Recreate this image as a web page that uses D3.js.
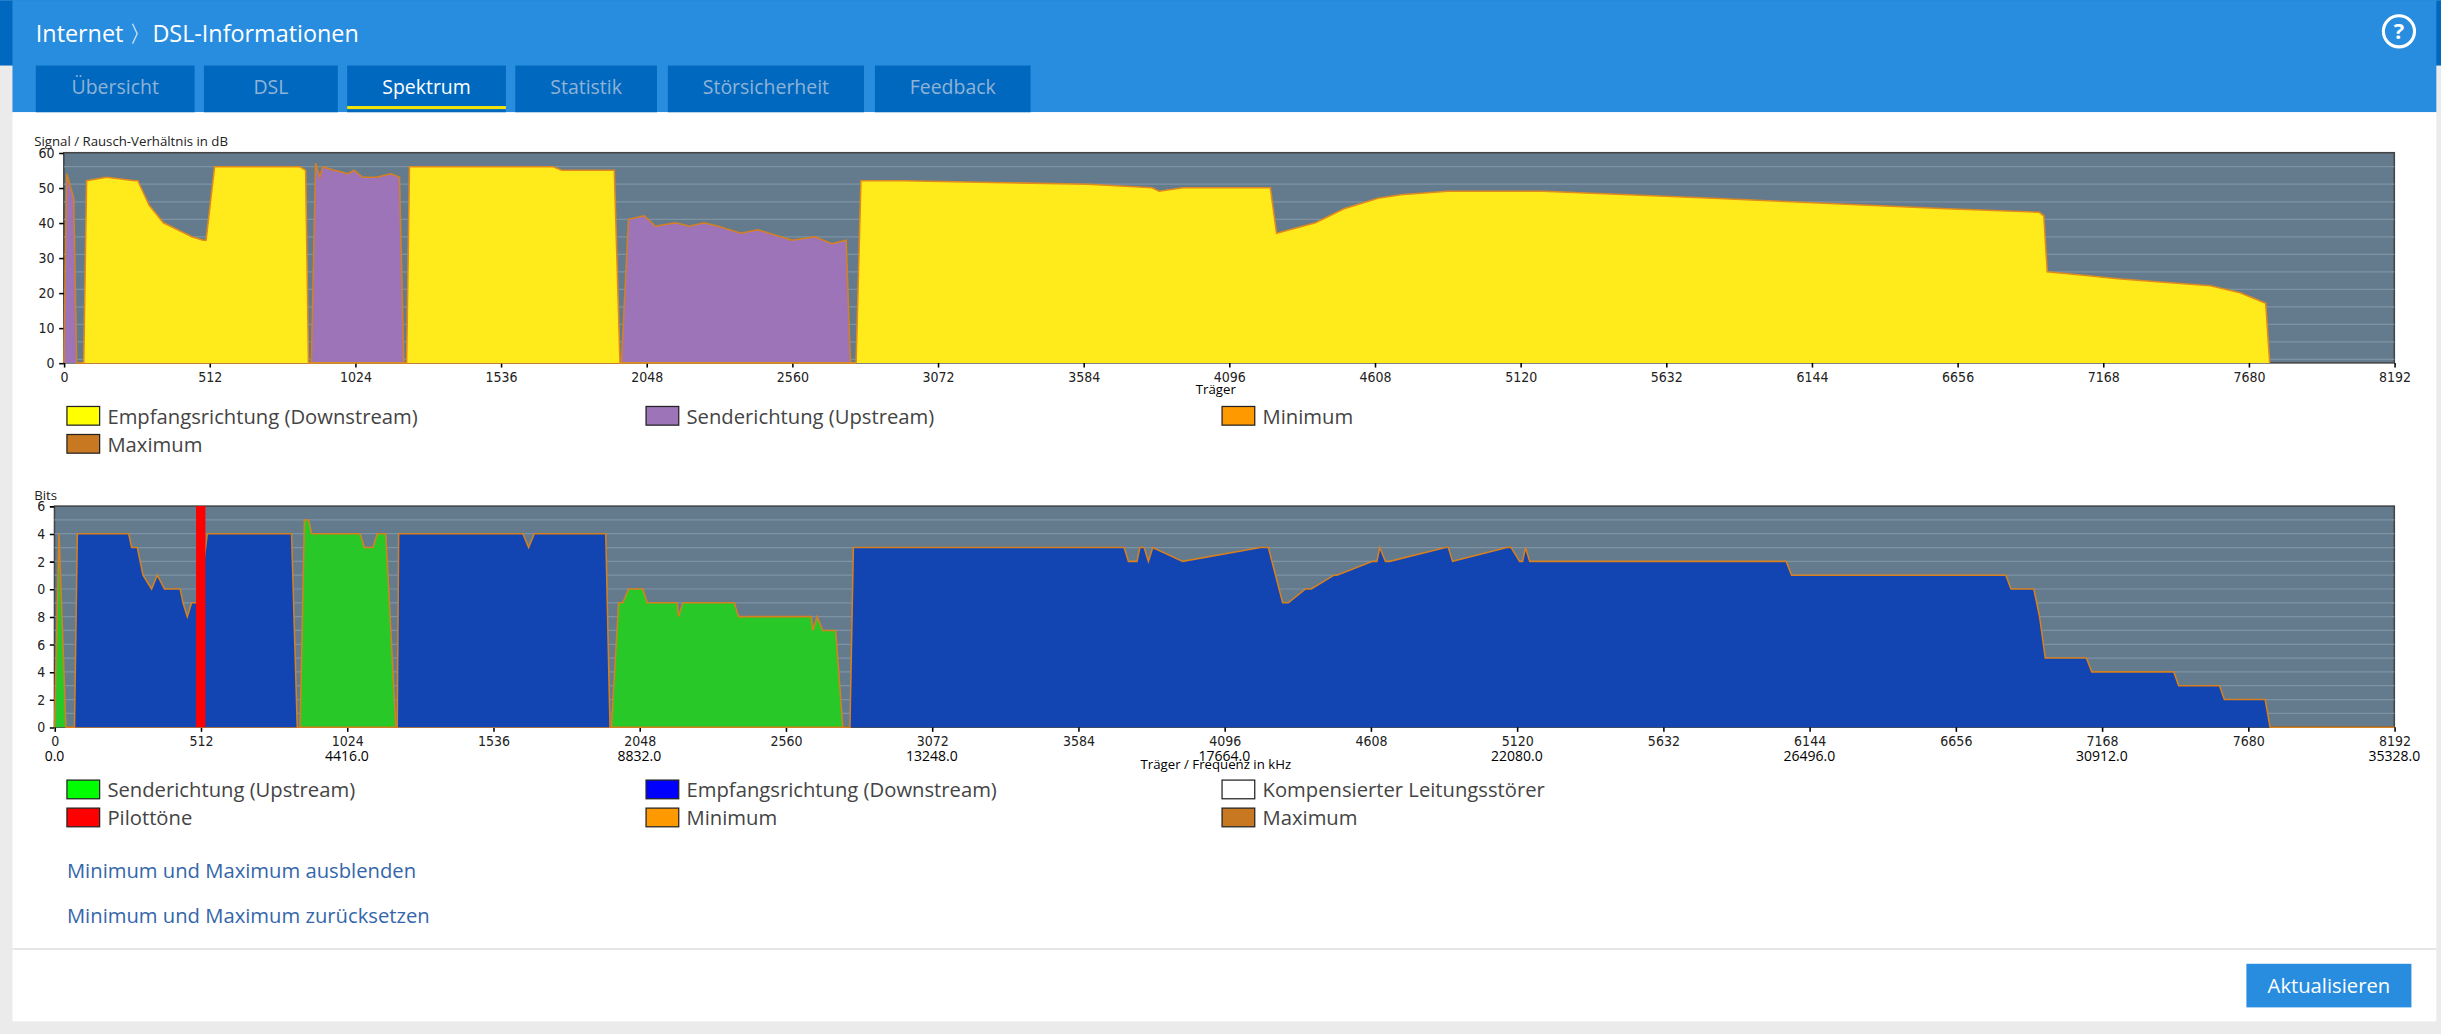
<!DOCTYPE html>
<html lang="de">
<head>
<meta charset="utf-8">
<style>
  body {margin: 0; background-color: #ebebeb; overflow: hidden;}
  svg {display: block;}
  text {font-family: "Open Sans", "Noto Sans", sans-serif;}
  .ax text {font-family: "DejaVu Sans Condensed", "Liberation Sans Narrow", sans-serif; font-size: 9px; fill: #222;}
</style>
</head>
<body>
<svg id="page" width="2441" height="1034" viewBox="0 0 1568 664"></svg>
<script src="https://d3js.org/d3.v7.min.js"></script>
<script>
// ---- SNR data (carrier, dB) ----
var snrDownC = [60,70,80,150,250,260,300,350,400,450,490,500,530,830,850,860,
                1205,1215,1720,1750,1935,1955,
                2785,2802,2950,3600,3825,3850,3934,4241,4263,4400,4500,4620,4700,4865,5200,5500,5795,6070,6342,6620,6944,6960,6972,7100,7220,7380,7546,7650,7710,7740,7754];
var snrDownV = [0,0,52,53,52,52,45,40,38,36,35,35,56,56,55,0,
                0,56,56,55,55,0,
                0,52,52,51,50,49,50,50,37,40,44,47,48,49,49,48,47,46,45,44,43,42,26,25,24,23,22,20,18,17,0];
var snrUpC = [0,10,35,45,60, 870,885,900,910,950,1000,1020,1050,1100,1150,1180,1195,
              1960,1985,2040,2080,2150,2200,2250,2300,2380,2440,2520,2560,2640,2700,2750,2765];
var snrUpV = [0,54,47,0,0, 0,57,53,56,55,54,55,53,53,54,53,0,
              0,41,42,39,40,39,40,39,37,38,36,35,36,34,35,0];

// ---- Bits data (carrier, bits) ----
var bitsDownC = [45,70,80,260,270,290,300,310,340,360,385,440,450,465,480,495,505,
                 535,830,850, 1200,1205,1640,1660,1680,1930,1945,
                 2785,2797,3745,3760,3790,3800,3815,3830,3845,3950,4222,4250,4300,4320,4380,4400,4480,4490,4615,4630,4640,4660,4675,4870,4880,4895,5085,5100,5130,5140,5150,5165,6063,6082,6832,6850,6930,6950,6970,7114,7133,7420,7437,7580,7597,7740,7757,8192];
var bitsDownV = [0,0,14,14,13,13,12,11,10,11,10,10,9,8,9,9,9,
                 14,14,0, 0,14,14,13,14,14,0,
                 0,13,13,12,12,13,13,12,13,12,13,13,9,9,10,10,11,11,12,12,13,12,12,13,13,12,13,13,12,12,13,12,12,11,11,10,10,8,5,5,4,4,3,3,2,2,0,0];
var bitsUpC = [0,16,40, 860,875,890,900,985,1000,1070,1085,1115,1130,1160,1195,
               1950,1975,1990,2010,2060,2075,2180,2185,2200,2380,2395,2650,2655,2670,2690,2735,2760];
var bitsUpV = [0,14,0, 0,15,15,14,14,14,14,13,13,14,14,0,
               0,9,9,10,10,9,9,8,9,9,8,8,7,8,7,7,0];
var pilotTones = [512];

var snrTicksY = [0,10,20,30,40,50,60];
var bitsTicksY = [0,2,4,6,8,10,12,14,16];
var carrierTicks = [0,512,1024,1536,2048,2560,3072,3584,4096,4608,5120,5632,6144,6656,7168,7680,8192];
var tabs = ["Übersicht","DSL","Spektrum","Statistik","Störsicherheit","Feedback"];

var svg = d3.select("#page");

// ---- page frame ----
svg.append("rect").attr("width",1568).attr("height",664).attr("fill","#ebebeb");
svg.append("rect").attr("x",0).attr("y",0).attr("width",1568).attr("height",42).attr("fill","#0069bf");
svg.append("rect").attr("x",8).attr("y",0).attr("width",1557).attr("height",72).attr("fill","#288ddf");
svg.append("rect").attr("x",8).attr("y",72).attr("width",1557).attr("height",584).attr("fill","#fff");
svg.append("line").attr("x1",8).attr("x2",1565).attr("y1",609.5).attr("y2",609.5).attr("stroke","#ddd");
svg.append("text").attr("x",23).attr("y",27).attr("fill","#fff").attr("font-size",15)
  .text("Internet 〉DSL-Informationen");
var help = svg.append("g").attr("transform","translate(1541,20)");
help.append("circle").attr("r",10).attr("fill","none").attr("stroke","#fff").attr("stroke-width",2);
help.append("text").attr("text-anchor","middle").attr("y",5).attr("fill","#fff").attr("font-size",14).attr("font-weight","bold").text("?");

var tabX = [23,131,223,331,429,562], tabW = [102,86,102,91,126,100];
tabs.forEach(function(t,i){
  svg.append("rect").attr("x",tabX[i]).attr("y",42).attr("width",tabW[i]).attr("height",30).attr("fill","#0069bf");
  svg.append("text").attr("x",tabX[i]+tabW[i]/2).attr("y",60).attr("text-anchor","middle")
    .attr("font-size",12.5).attr("fill", i===2 ? "#fff" : "#8fb3d6").text(t);
});
svg.append("rect").attr("x",223).attr("y",68).attr("width",102).attr("height",2).attr("fill","#f2e20a");

// ---- chart helper ----
function chart(top, bottom, yMax, yTicks, yLabel, clipLabels){
  var x = d3.scaleLinear().domain([0,8192]).range(clipLabels ? [35,1538] : [41,1538]);
  var y = d3.scaleLinear().domain([0,yMax]).range([bottom, top]);
  var g = svg.append("g");
  g.append("rect").attr("x",x(0)).attr("y",top).attr("width",x(8192)-x(0)).attr("height",bottom-top)
    .attr("fill","#647b8e").attr("stroke","#444").attr("stroke-width",1);
  var grid = d3.range(1, yMax, clipLabels ? 1 : 5);
  g.selectAll(".gl").data(grid).join("line")
    .attr("x1",x(0)).attr("x2",x(8192)).attr("y1",function(d){return y(d);}).attr("y2",function(d){return y(d);})
    .attr("stroke","#7d93a4").attr("stroke-width",0.8);
  var ya = g.append("g").attr("class","ax").attr("transform","translate("+x(0)+",0)")
    .call(d3.axisLeft(y).tickValues(yTicks).tickSize(3).tickFormat(d3.format("d")));
  ya.select(".domain").remove();
  if (clipLabels) {
    svg.append("clipPath").attr("id","yclip").append("rect").attr("x",24-x(0)).attr("y",top-10).attr("width",x(0)-24).attr("height",bottom-top+20);
    ya.attr("clip-path","url(#yclip)");
  }
  g.append("text").attr("x",22).attr("y",top-4).attr("font-size",8.5).attr("fill","#222")
    .attr("font-family","DejaVu Sans Condensed, sans-serif").text(yLabel);
  var xa = g.append("g").attr("class","ax").attr("transform","translate(0,"+bottom+")")
    .call(d3.axisBottom(x).tickValues(carrierTicks).tickSize(3).tickFormat(d3.format("d")));
  xa.select(".domain").remove();
  return {x:x, y:y, g:g};
}

function area(c, xs, ys, fill, stroke){
  var pts = xs.map(function(v,i){return [v, ys[i]];});
  c.g.append("path").datum(pts).attr("fill",fill)
    .attr("d", d3.area().x(function(d){return c.x(d[0]);}).y0(c.y(0)).y1(function(d){return c.y(d[1]);}));
  c.g.append("path").datum(pts).attr("fill","none").attr("stroke",stroke).attr("stroke-width",1)
    .attr("d", d3.line().x(function(d){return c.x(d[0]);}).y(function(d){return c.y(d[1]);}));
}

// ---- SNR chart ----
var c1 = chart(98, 233, 60, snrTicksY, "Signal / Rausch-Verhältnis in dB", false);
area(c1, snrUpC, snrUpV, "#9e74b8", "#d6801f");
area(c1, snrDownC, snrDownV, "#ffeb1c", "#e08a1e");
c1.g.append("text").attr("x",781).attr("y",253).attr("text-anchor","middle").attr("font-size",8.5)
  .attr("font-family","DejaVu Sans Condensed, sans-serif").text("Träger");

// ---- Bits chart ----
var c2 = chart(325, 467, 16, bitsTicksY, "Bits", true);
area(c2, bitsUpC, bitsUpV, "#28c828", "#d6801f");
area(c2, bitsDownC, bitsDownV, "#1244b2", "#d6801f");
c2.g.selectAll(".pilot").data(pilotTones).join("rect")
  .attr("x",function(d){return c2.x(d)-3;}).attr("y",325).attr("width",6).attr("height",142).attr("fill","#ff0000");
var fq = d3.scaleLinear().domain([0,8192]).range([0,35328]);
c2.g.selectAll(".fq").data(carrierTicks.filter(function(d,i){return i%2===0;})).join("text")
  .attr("x",function(d){return c2.x(d);}).attr("y",489).attr("text-anchor","middle").attr("font-size",9)
  .attr("font-family","DejaVu Sans Condensed, sans-serif")
  .text(function(d){return fq(d).toFixed(1);});
c2.g.append("text").attr("x",781).attr("y",494).attr("text-anchor","middle").attr("font-size",8.5)
  .attr("font-family","DejaVu Sans Condensed, sans-serif").text("Träger / Frequenz in kHz");

// ---- legends ----
function legend(items){
  items.forEach(function(it){
    svg.append("rect").attr("x",it[0]).attr("y",it[1]-11).attr("width",21).attr("height",12)
      .attr("fill",it[2]).attr("stroke","#222").attr("stroke-width",0.8);
    svg.append("text").attr("x",it[0]+26).attr("y",it[1]).attr("font-size",13).attr("fill","#444").text(it[3]);
  });
}
legend([[43,272,"#ffff00","Empfangsrichtung (Downstream)"],[415,272,"#9e74b8","Senderichtung (Upstream)"],
        [785,272,"#ff9900","Minimum"],[43,290,"#c87820","Maximum"]]);
legend([[43,512,"#00ff00","Senderichtung (Upstream)"],[415,512,"#0000ff","Empfangsrichtung (Downstream)"],
        [785,512,"#ffffff","Kompensierter Leitungsstörer"],[43,530,"#ff0000","Pilottöne"],
        [415,530,"#ff9900","Minimum"],[785,530,"#c87820","Maximum"]]);

svg.append("text").attr("x",43).attr("y",564).attr("font-size",13).attr("fill","#3366aa").text("Minimum und Maximum ausblenden");
svg.append("text").attr("x",43).attr("y",593).attr("font-size",13).attr("fill","#3366aa").text("Minimum und Maximum zurücksetzen");

svg.append("rect").attr("x",1443).attr("y",619).attr("width",106).attr("height",28).attr("fill","#288ddf");
svg.append("text").attr("x",1496).attr("y",638).attr("text-anchor","middle").attr("font-size",13).attr("fill","#fff").text("Aktualisieren");
</script>
</body>
</html>
